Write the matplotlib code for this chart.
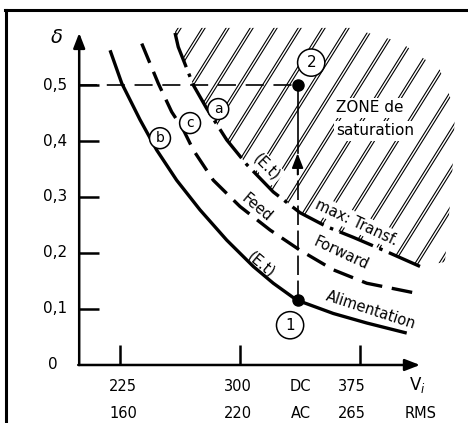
import numpy as np
import matplotlib
matplotlib.use("Agg")
import matplotlib.pyplot as plt
from matplotlib.patches import Polygon
from matplotlib.lines import Line2D

plt.rcParams['font.family'] = ['DejaVu Sans']
plt.rcParams['lines.scale_dashes'] = False

# curves: Vi (DC) and duty cycle delta
vi_alim = [218.8, 226.1, 237.5, 247.9, 260.4, 275.0, 291.7, 308.3, 320.8, 335.4, 358.3, 379.2, 404.2]
d_alim = [0.562, 0.503, 0.438, 0.384, 0.330, 0.277, 0.223, 0.176, 0.146, 0.116, 0.092, 0.075, 0.057]

vi_feed = [238.6, 248.9, 257.3, 264.6, 270.8, 283.3, 300.0, 318.8, 337.5, 358.3, 379.2, 410.4]
d_feed = [0.574, 0.503, 0.452, 0.420, 0.384, 0.330, 0.283, 0.241, 0.205, 0.170, 0.146, 0.128]

vi_max = [259.4, 261.4, 270.8, 279.2, 291.7, 304.2, 320.8, 337.5, 354.2, 370.8, 389.6, 412.5]
d_max = [0.593, 0.568, 0.500, 0.458, 0.402, 0.358, 0.309, 0.272, 0.247, 0.228, 0.205, 0.176]

# operating points 1 and 2
vi_op = 336
d_op1 = 0.116
d_op2 = 0.5

y_ticks = [0.1, 0.2, 0.3, 0.4, 0.5]
y_labels = ['0,1', '0,2', '0,3', '0,4', '0,5']
x_ticks = [225, 300, 375]
dc_labels = ['225', '300', 'DC', '375']
ac_labels = ['160', '220', 'AC', '265']
label_pos = [227, 298.5, 338, 370]

fig = plt.figure(figsize=(4.68, 4.23), dpi=100)
ax = fig.add_axes([0, 0, 1, 1])
ax.set_xlim(150, 442.5)
ax.set_ylim(-0.1036, 0.6518)
ax.axis('off')

# page frame
fig.add_artist(Line2D([0.011, 1.0], [0.976, 0.976], transform=fig.transFigure, color='black', lw=2.2))
fig.add_artist(Line2D([0.013, 0.013], [0.0, 0.977], transform=fig.transFigure, color='black', lw=2.2))

# axes with arrows
x0 = 199.5
head = '-|>,head_length=0.9,head_width=0.35'
ax.annotate('', xy=(x0, 0.593), xytext=(x0, 0), arrowprops=dict(
    arrowstyle=head, color='black', lw=1.8, shrinkA=0, shrinkB=0))
ax.annotate('', xy=(412.5, 0), xytext=(x0 - 0.6, 0), arrowprops=dict(
    arrowstyle=head, color='black', lw=1.8, shrinkA=0, shrinkB=0))
for t in y_ticks:
    ax.plot([x0, x0 + 12.5], [t, t], color='black', lw=1.8, solid_capstyle='butt')
for t in x_ticks:
    ax.plot([t, t], [0, 0.036], color='black', lw=1.8, solid_capstyle='butt')

for t, lab in zip(y_ticks, y_labels):
    ax.text(184.4, t, lab, fontsize=11, ha='center', va='center')
ax.text(183.1, 0, '0', fontsize=11, ha='center', va='center')
for x, a, b in zip(label_pos, dc_labels, ac_labels):
    ax.text(x, -0.039, a, fontsize=10.5, ha='center', va='center')
    ax.text(x, -0.086, b, fontsize=10.5, ha='center', va='center')
ax.text(411, -0.036, r'V$_{i}$', fontsize=12, ha='center', va='center')
ax.text(413, -0.086, 'RMS', fontsize=10.5, ha='center', va='center')
ax.text(185.6, 0.584, r'$\delta$', fontsize=14, ha='center', va='center')

# saturation zone hatching (double lines) above curve a
edge_v = [428.1, 432.5, 434.4, 425.0, 400.0, 368.8, 259.4]
edge_d = [0.184, 0.330, 0.455, 0.527, 0.577, 0.602, 0.602]
zone = Polygon(np.column_stack([vi_max + edge_v, d_max + edge_d]), closed=True,
               facecolor='none', edgecolor='none', transform=ax.transData)
ax.add_patch(zone)
k = 1 / np.tan(np.radians(58))
for c in np.arange(180, 620, 24):
    for dc in (0, 3):
        px = np.array([c + dc, c + dc - 320 * k])
        py = np.array([25, 345])
        ln, = ax.plot(225 + (px - 120) / 1.6, (365 - py) / 560, color='black', lw=0.8)
        ln.set_clip_path(zone)

# curves
ax.plot(vi_alim, d_alim, color='black', lw=2.4, solid_capstyle='butt')
ax.plot(vi_feed, d_feed, color='black', lw=2.4, dashes=(15, 7), dash_capstyle='butt')
ax.plot(vi_max, d_max, color='black', lw=2.4, dashes=(26, 5, 2.5, 5), dash_capstyle='butt')

# operating points and transition
ax.plot([x0, vi_op], [d_op2, d_op2], color='black', lw=1.2, dashes=(13, 7))
ax.plot([vi_op, vi_op], [d_op1, 0.35], color='black', lw=1.2, dashes=(14, 4))
ax.annotate('', xy=(vi_op, 0.378), xytext=(vi_op, 0.34), arrowprops=dict(
    arrowstyle=head, color='black', lw=1.2, shrinkA=0, shrinkB=0))
ax.plot([vi_op, vi_op], [0.378, d_op2], color='black', lw=1.2)
ax.plot([vi_op, vi_op], [d_op1, d_op2], 'o', color='black', ms=8, zorder=5)

circ = dict(boxstyle='circle,pad=0.25', facecolor='white', edgecolor='black', lw=1.1)
circ_big = dict(boxstyle='circle,pad=0.4', facecolor='white', edgecolor='black', lw=1.1)
ax.text(286.4, 0.457, 'a', fontsize=10, ha='center', va='center', bbox=circ, zorder=6)
ax.text(268.8, 0.432, 'c', fontsize=10, ha='center', va='center', bbox=circ, zorder=6)
ax.text(250.0, 0.405, 'b', fontsize=10, ha='center', va='center', bbox=circ, zorder=6)
ax.text(344.5, 0.540, '2', fontsize=11, ha='center', va='center', bbox=circ_big, zorder=6)
ax.text(331.3, 0.071, '1', fontsize=11, ha='center', va='center', bbox=circ_big, zorder=6)

white = dict(facecolor='white', edgecolor='none', pad=1.5)
ax.text(381.3, 0.459, 'ZONE de', fontsize=11, ha='center', va='center', bbox=white, zorder=6)
ax.text(384.4, 0.418, 'saturation', fontsize=11, ha='center', va='center', bbox=white, zorder=6)

ax.text(373.0, 0.254, 'max: Transf.', fontsize=10.5, ha='center', va='center', rotation=-25,
        bbox=white, zorder=6)
ax.text(310.5, 0.280, 'Feed', fontsize=10.5, ha='center', va='center', rotation=-40)
ax.text(363.5, 0.199, 'Forward', fontsize=10.5, ha='center', va='center', rotation=-25)
ax.text(382.0, 0.098, 'Alimentation', fontsize=10.5, ha='center', va='center', rotation=-18)
ax.text(313.0, 0.179, '(E.t)', fontsize=10.5, ha='center', va='center', rotation=-40)
ax.text(316.7, 0.354, '(E.t)', fontsize=10.5, ha='center', va='center', rotation=-45,
        bbox=white, zorder=6)

fig.savefig('out.png', dpi=100)
